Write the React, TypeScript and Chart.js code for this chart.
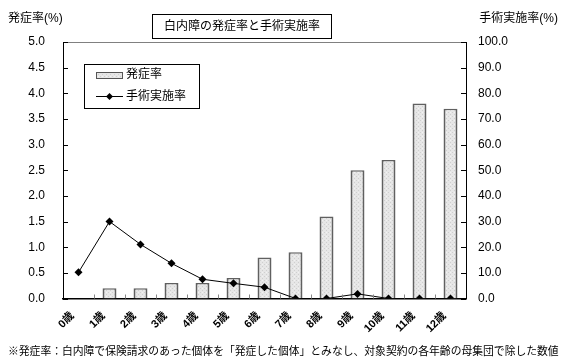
import React, { useEffect, useRef } from "react";
import { Chart, registerables } from "chart.js";

Chart.register(...registerables);

const categories = ["0歳", "1歳", "2歳", "3歳", "4歳", "5歳", "6歳", "7歳", "8歳", "9歳", "10歳", "11歳", "12歳"];
const incidence = [0, 0.2, 0.2, 0.3, 0.3, 0.4, 0.8, 0.9, 1.6, 2.5, 2.7, 3.8, 3.7];
const surgeryRate = [10.2, 30.0, 21.1, 13.7, 7.5, 5.9, 4.4, 0, 0, 1.8, 0, 0, 0];

const chartTitle = "白内障の発症率と手術実施率";
const leftAxisTitle = "発症率(%)";
const rightAxisTitle = "手術実施率(%)";
const incidenceLabel = "発症率";
const surgeryLabel = "手術実施率";
const footnote = "※発症率：白内障で保険請求のあった個体を「発症した個体」とみなし、対象契約の各年齢の母集団で除した数値";

const JP = '"Liberation Sans", Arial, "Noto Sans CJK JP", sans-serif';

function makePattern(): CanvasPattern | string {
  const c = document.createElement("canvas");
  c.width = 4;
  c.height = 4;
  const g = c.getContext("2d");
  if (!g) return "#e0e0e0";
  g.fillStyle = "#e6e6e6";
  g.fillRect(0, 0, 4, 4);
  g.fillStyle = "#cfcfcf";
  g.fillRect(0, 0, 1, 1);
  g.fillRect(2, 2, 1, 1);
  g.fillStyle = "#f2f2f2";
  g.fillRect(2, 0, 1, 1);
  const p = g.createPattern(c, "repeat");
  return p || "#e0e0e0";
}

const decorPlugin = {
  id: "decor",
  afterDraw(chart: any) {
    const ctx = chart.ctx as CanvasRenderingContext2D;
    const { left, right, top, bottom } = chart.chartArea;
    const yL = chart.scales.y;
    const yR = chart.scales.y1;
    const x = chart.scales.x;
    ctx.save();
    // top border
    ctx.strokeStyle = "#808080";
    ctx.lineWidth = 1;
    ctx.beginPath();
    ctx.moveTo(left, top + 0.5);
    ctx.lineTo(right, top + 0.5);
    ctx.stroke();
    // inward ticks
    ctx.strokeStyle = "#000";
    ctx.lineWidth = 1;
    yL.ticks.forEach((t: any) => {
      const py = Math.round(yL.getPixelForValue(t.value)) + 0.5;
      ctx.beginPath();
      ctx.moveTo(left, py);
      ctx.lineTo(left + 5, py);
      ctx.stroke();
    });
    yR.ticks.forEach((t: any) => {
      const py = Math.round(yR.getPixelForValue(t.value)) + 0.5;
      ctx.beginPath();
      ctx.moveTo(right, py);
      ctx.lineTo(right - 5, py);
      ctx.stroke();
    });
    // category boundary ticks
    ctx.strokeStyle = "#888";
    for (let i = 1; i < categories.length; i++) {
      const px = Math.round((x.getPixelForValue(i - 1) + x.getPixelForValue(i)) / 2) + 0.5;
      ctx.beginPath();
      ctx.moveTo(px, bottom);
      ctx.lineTo(px, bottom - 4);
      ctx.stroke();
    }
    // title box
    ctx.fillStyle = "#fff";
    ctx.fillRect(152, 14, 179, 24);
    ctx.strokeStyle = "#000";
    ctx.strokeRect(152.5, 14.5, 179, 24);
    ctx.fillStyle = "#000";
    ctx.font = `12px ${JP}`;
    ctx.textAlign = "center";
    ctx.textBaseline = "middle";
    ctx.fillText(chartTitle, 242, 27);
    // axis titles
    ctx.font = `12px ${JP}`;
    ctx.textAlign = "left";
    ctx.fillText(leftAxisTitle, 8, 19);
    ctx.textAlign = "right";
    ctx.fillText(rightAxisTitle, 558, 19);
    // legend
    ctx.fillStyle = "#fff";
    ctx.fillRect(84, 64, 115, 44);
    ctx.strokeStyle = "#000";
    ctx.strokeRect(84.5, 64.5, 115, 44);
    ctx.fillStyle = chart.data.datasets[0].backgroundColor;
    ctx.fillRect(96, 72, 26, 6);
    ctx.strokeStyle = "#555";
    ctx.strokeRect(96.5, 72.5, 26, 6);
    ctx.strokeStyle = "#000";
    ctx.beginPath();
    ctx.moveTo(96, 96.5);
    ctx.lineTo(123, 96.5);
    ctx.stroke();
    ctx.fillStyle = "#000";
    ctx.beginPath();
    ctx.moveTo(109.5, 93);
    ctx.lineTo(113, 96.5);
    ctx.lineTo(109.5, 100);
    ctx.lineTo(106, 96.5);
    ctx.closePath();
    ctx.fill();
    ctx.font = `12px ${JP}`;
    ctx.textAlign = "left";
    ctx.textBaseline = "middle";
    ctx.fillText(incidenceLabel, 126, 75);
    ctx.fillText(surgeryLabel, 126, 97);
    // footnote
    ctx.font = `10.8px ${JP}`;
    ctx.textAlign = "left";
    ctx.fillText(footnote, 8, 352);
    ctx.restore();
  },
};

export default function App() {
  const ref = useRef<HTMLCanvasElement | null>(null);
  useEffect(() => {
    document.body.style.margin = "0";
    const canvas = ref.current;
    if (!canvas) return;
    const chart = new Chart(canvas, {
      type: "bar",
      data: {
        labels: categories,
        datasets: [
          {
            type: "bar",
            label: incidenceLabel,
            data: incidence,
            yAxisID: "y",
            backgroundColor: makePattern() as any,
            borderColor: "#606060",
            borderWidth: { top: 1.5, left: 2, right: 2, bottom: 0 } as any,
            borderSkipped: "bottom",
            categoryPercentage: 1,
            barPercentage: 0.45,
            order: 2,
          },
          {
            type: "line",
            label: surgeryLabel,
            data: surgeryRate,
            yAxisID: "y1",
            borderColor: "#000",
            borderWidth: 1,
            backgroundColor: "#000",
            pointStyle: "rectRot",
            pointRadius: 4,
            pointBorderWidth: 0,
            tension: 0,
            order: 1,
          } as any,
        ],
      },
      options: {
        animation: false,
        responsive: false,
        maintainAspectRatio: false,
        layout: { padding: { top: 42, left: 0, right: 0, bottom: 0 } },
        plugins: { legend: { display: false }, title: { display: false }, tooltip: { enabled: false } },
        scales: {
          x: {
            offset: true,
            grid: { display: false, drawTicks: false },
            border: { display: true, color: "#000", width: 1.5 },
            ticks: {
              minRotation: 45,
              maxRotation: 45,
              padding: 11,
              labelOffset: -6,
              autoSkip: false,
              color: "#000",
              font: { family: JP, size: 11, weight: "bold" },
            },
            afterFit: (s: any) => {
              s.height = 64.5;
            },
          },
          y: {
            position: "left",
            min: 0,
            max: 5,
            ticks: {
              stepSize: 0.5,
              padding: 18,
              color: "#000",
              font: { family: JP, size: 12 },
              callback: (v: any) => Number(v).toFixed(1),
            },
            grid: { display: false, drawTicks: false },
            border: { display: true, color: "#000", width: 1 },
            afterFit: (s: any) => {
              s.width = 63;
            },
          },
          y1: {
            position: "right",
            min: 0,
            max: 100,
            ticks: {
              stepSize: 10,
              padding: 12,
              color: "#000",
              font: { family: JP, size: 12 },
              callback: (v: any) => Number(v).toFixed(1),
            },
            grid: { display: false, drawTicks: false },
            border: { display: true, color: "#000", width: 1 },
            afterFit: (s: any) => {
              s.width = 98;
            },
          },
        },
      },
      plugins: [decorPlugin],
    });
    return () => chart.destroy();
  }, []);
  return (
    <div style={{ width: 564, height: 363, background: "#fff" }}>
      <canvas ref={ref} width={564} height={363} style={{ display: "block" }} />
    </div>
  );
}
